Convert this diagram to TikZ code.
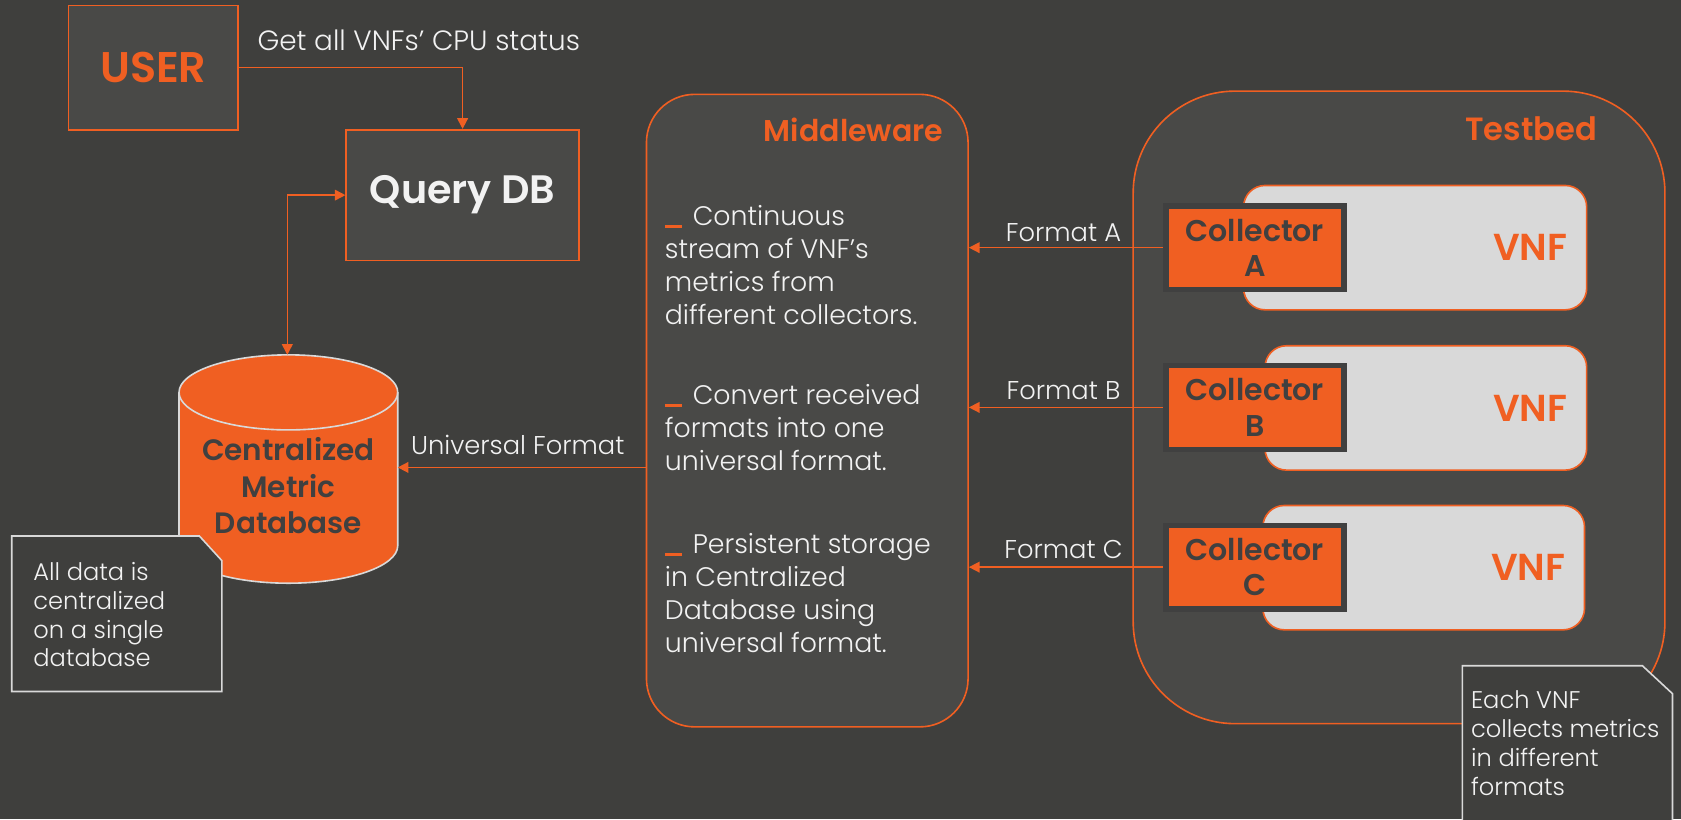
\documentclass[tikz,border=0pt]{standalone}
\usepackage{fontspec}
\setmainfont{Poppins}[UprightFont=* Light, BoldFont=* SemiBold]
\usetikzlibrary{arrows.meta,positioning}
\definecolor{bgc}{HTML}{3F3F3D}
\definecolor{panel}{HTML}{494947}
\definecolor{accent}{HTML}{F05F22}
\definecolor{pale}{HTML}{D9D9D9}
\definecolor{ink}{HTML}{404040}
\definecolor{txt}{HTML}{F2F2F2}
\newcommand{\fs}[2]{\fontsize{#1}{#2}\selectfont}
\tikzset{
  sqbox/.style={draw=accent, fill=panel, line width=1.5pt, inner sep=0pt},
  panelbox/.style={draw=accent, fill=panel, line width=1.5pt, inner sep=0pt},
  vnfbox/.style={draw=accent, fill=pale, line width=1.5pt, rounded corners=20pt,
    inner sep=0pt, minimum height=116, font=\bfseries\fs{35}{40}, text=accent},
  colbox/.style={draw=ink, fill=accent, line width=5pt, inner sep=0pt,
    minimum width=166, minimum height=78, align=center,
    font=\bfseries\fs{28}{33}, text=ink},
  arr/.style={draw=accent, line width=1.5pt, -{Triangle[length=10pt,width=10pt]}},
  darr/.style={draw=accent, line width=1.5pt,
    {Triangle[length=10pt,width=10pt]}-{Triangle[length=10pt,width=10pt]}},
  lbl/.style={text=txt, font=\fs{24}{28}, inner sep=0pt},
  notebox/.style={draw=pale, fill=bgc, line width=1.5pt},
  notetext/.style={text=txt, font=\fs{22.5}{27}, align=left, inner sep=0pt, anchor=north west},
  bullet/.style={text=txt, font=\fs{25}{31}, align=left, inner sep=0pt, anchor=north west},
  title/.style={text=accent, anchor=east, inner sep=0pt},
}
% orange bar that opens each middleware item
\newcommand{\dash}{\textcolor{accent}{\rule[-3pt]{16pt}{3pt}}\hspace{10pt}}
\begin{document}
\begin{tikzpicture}[x=1pt,y=-1pt]
\useasboundingbox[fill=bgc] (0,0) rectangle (1568,764);

% user and query
\node[sqbox, minimum width=158, minimum height=116, text=accent,
      font=\bfseries\fs{40}{44}] (user) at (143,63) {USER};
\node[sqbox, minimum width=217, minimum height=122, text=txt,
      font=\bfseries\fs{37}{42}] (query) at (431.5,182) {Query DB};
\node[text=txt, font=\fs{26}{30}, inner sep=0pt, anchor=west] (getlbl) at (240,38) {Get all VNFs’ CPU status};
\draw[arr] (user.east) -| (query.north);

% centralized database cylinder
\coordinate (dbtop) at (268,331);
\coordinate (dbright) at (371,436);
\fill[accent] (167,366) -- (167,509) arc[start angle=180,end angle=0,x radius=102,y radius=35]
  -- (371,366) arc[start angle=0,end angle=-180,x radius=102,y radius=35] -- cycle;
\draw[pale, line width=1.5pt] (167,366) -- (167,509) arc[start angle=180,end angle=0,x radius=102,y radius=35]
  -- (371,366);
\draw[pale, line width=1.5pt] (269,366) ellipse[x radius=102,y radius=35];
\node[text=ink, font=\bfseries\fs{27.5}{34}, align=center] (db) at (269,453)
  {Centralized\\Metric\\Database};
\draw[darr] (query.west) -| (dbtop);

% note on the database
\draw[notebox] (11,500) -- (186,500) -- (207,523) -- (207,645) -- (11,645) -- cycle;
\node[notetext] (note1) at (31,524) {All data is\\centralized\\on a single\\database};

% middleware panel
\node[panelbox, rounded corners=45pt, minimum width=300, minimum height=590] (mw) at (753,383) {};
\node[title, font=\bfseries\fs{28}{32}] (mwtitle) at (880,121) {Middleware};
\node[bullet] (b1) at (620,191) {\dash Continuous\\stream of VNF’s\\metrics from\\different collectors.};
\node[bullet] (b2) at (620,358) {\dash Convert received\\formats into one\\universal format.};
\node[bullet] (b3) at (620,497) {\dash Persistent storage\\in Centralized\\Database using\\universal format.};
\draw[arr] (mw.west |- dbright) -- (dbright);
\node[lbl] (unilbl) at (483,415) {Universal Format};

% testbed panel
\node[panelbox, rounded corners=95pt, minimum width=496, minimum height=590] (tb) at (1305,380) {};
\node[title, font=\bfseries\fs{30}{34}] (tbtitle) at (1490,120) {Testbed};

\node[vnfbox, minimum width=320, text width=284, align=right] (vnfA) at (1320,231) {VNF};
\node[vnfbox, minimum width=300, text width=264, align=right] (vnfB) at (1330,380.5) {VNF};
\node[vnfbox, minimum width=300, text width=264, align=right] (vnfC) at (1328,529.5) {VNF};

\node[colbox] (colA) at (1170.5,231) {Collector\\A};
\node[colbox] (colB) at (1170.5,380) {Collector\\B};
\node[colbox] (colC) at (1170.5,529) {Collector\\C};

\draw[arr] (colA.west) -- (colA.west -| mw.east);
\draw[arr] (colB.west) -- (colB.west -| mw.east);
\draw[arr] (colC.west) -- (colC.west -| mw.east);
\node[lbl] (fA) at (992,217) {Format A};
\node[lbl] (fB) at (992,364) {Format B};
\node[lbl] (fC) at (992,513) {Format C};

% note on the testbed
\draw[notebox] (1364,621) -- (1532,621) -- (1560,647) -- (1560,770) -- (1364,770) -- cycle;
\node[notetext] (note2) at (1372,644) {Each VNF\\collects metrics\\in different\\formats};
\end{tikzpicture}
\end{document}
